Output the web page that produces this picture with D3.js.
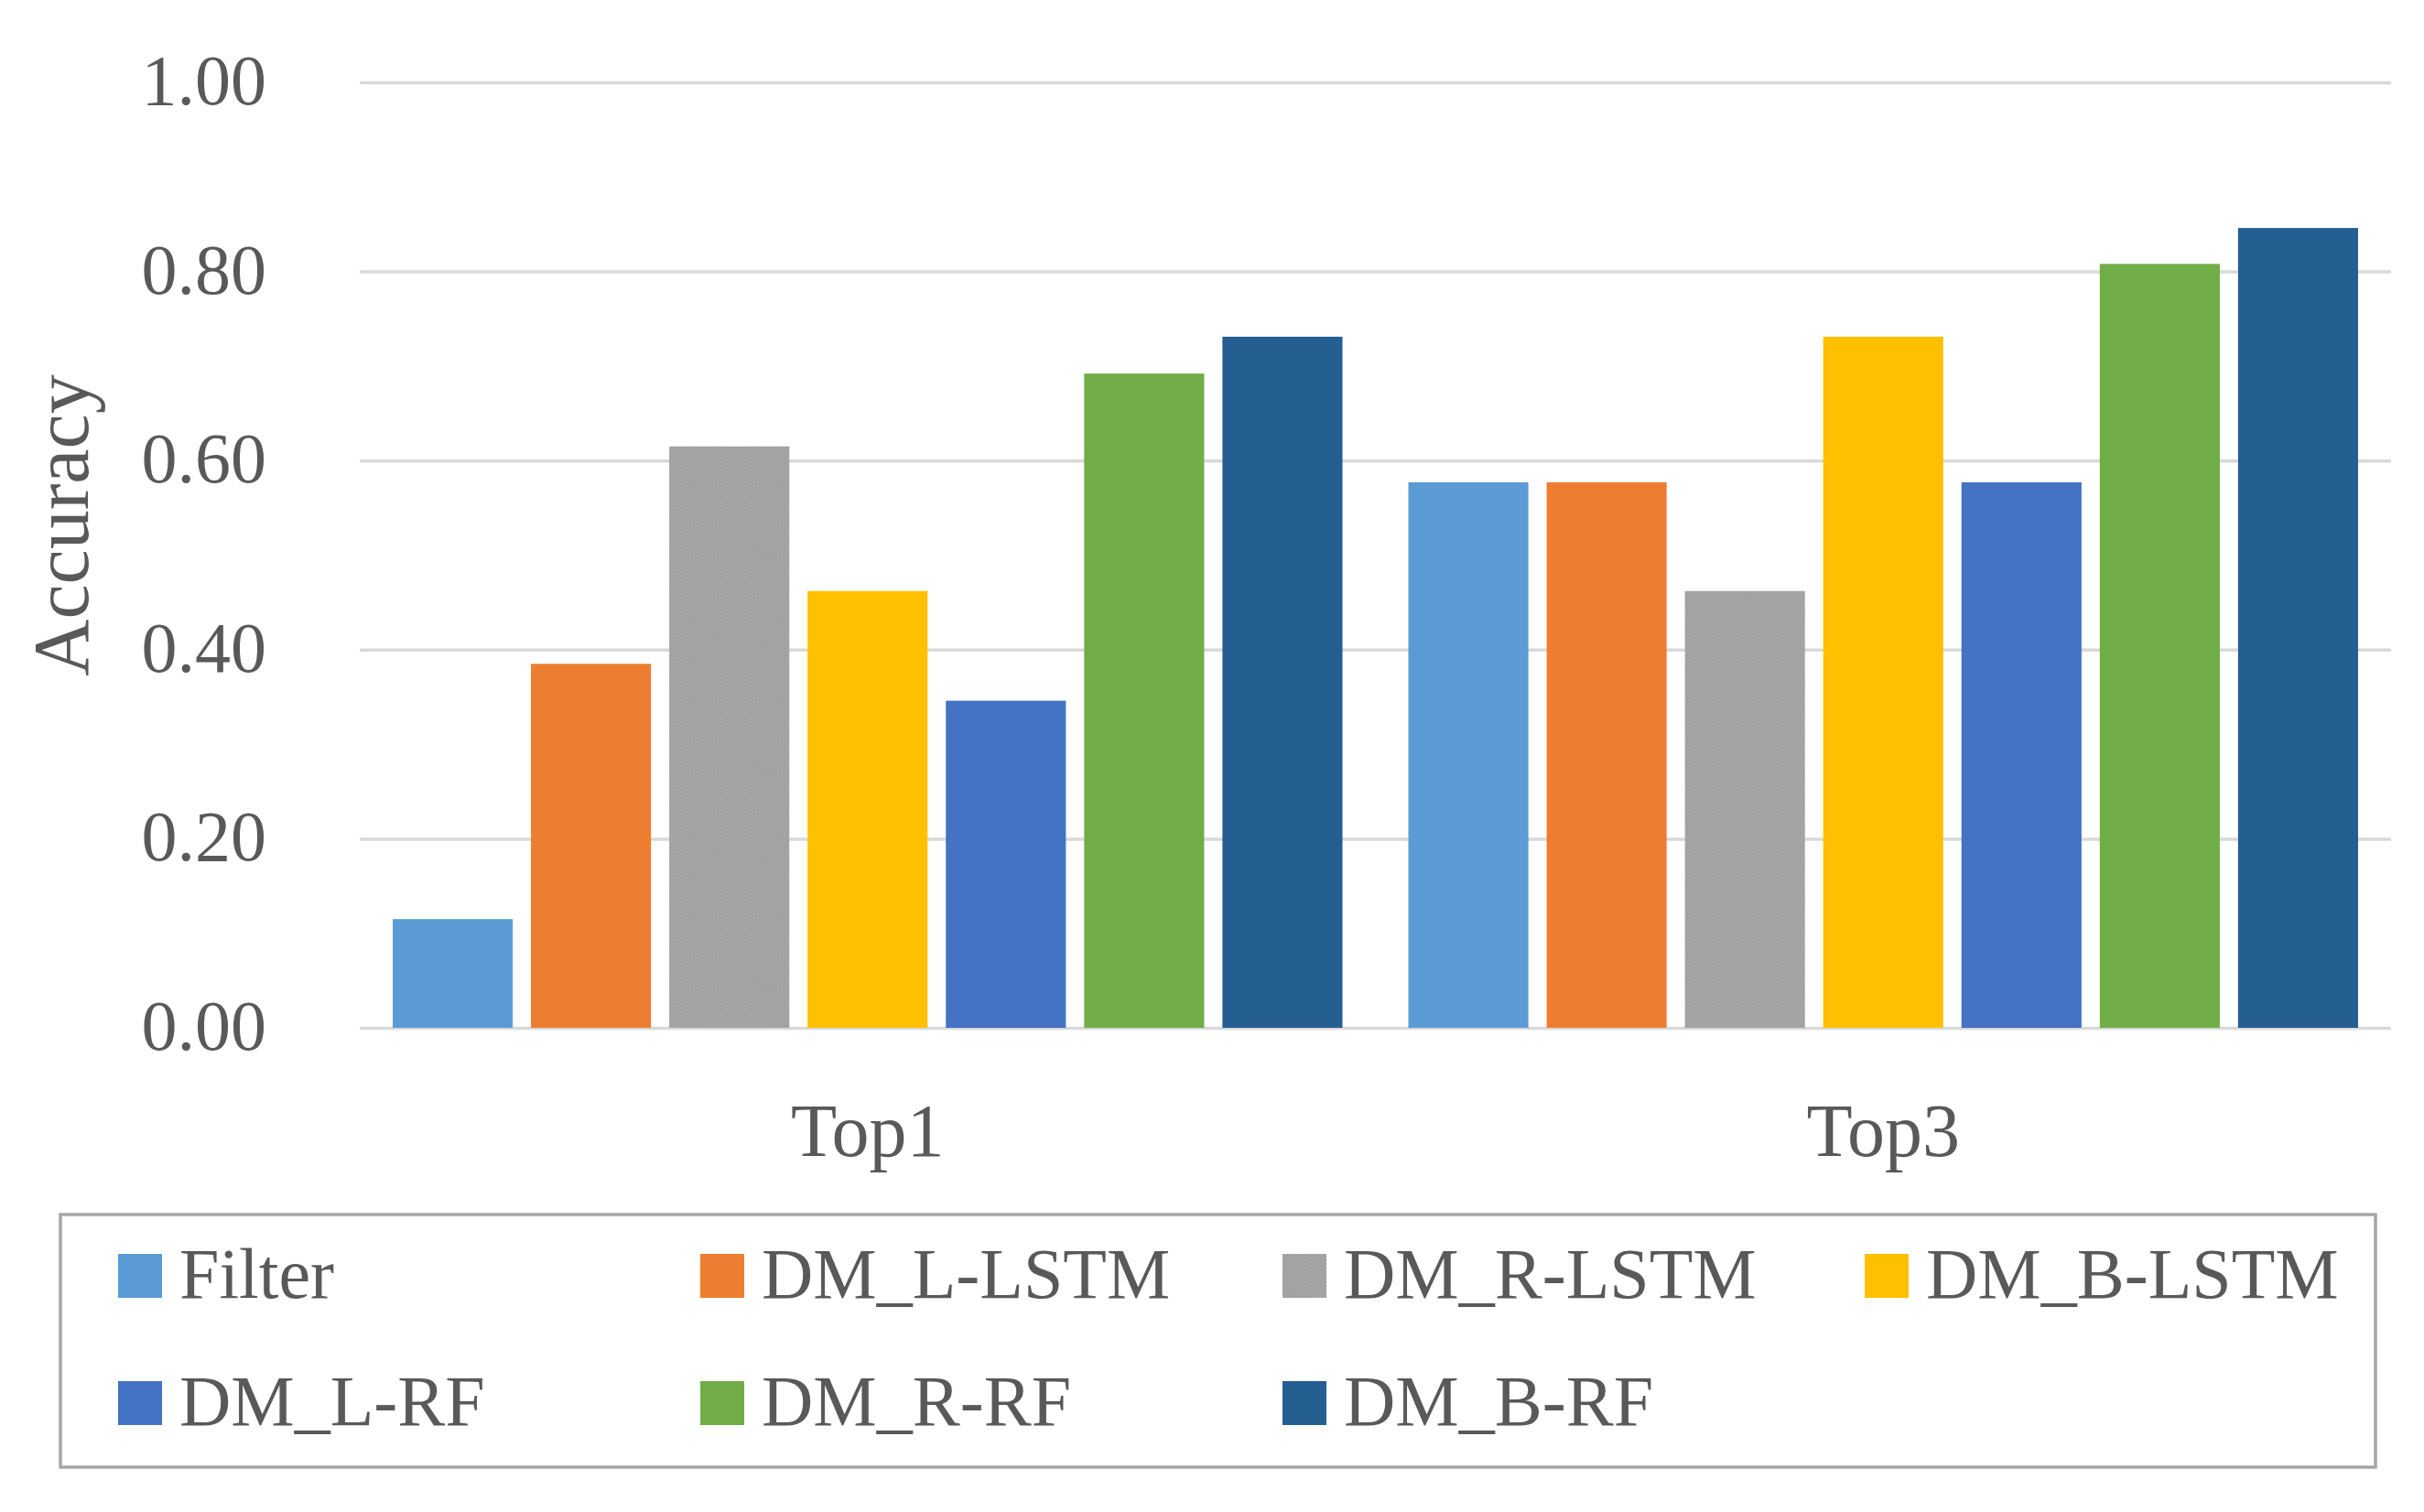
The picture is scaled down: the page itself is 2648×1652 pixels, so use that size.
<!DOCTYPE html>
<html>
<head>
<meta charset="utf-8">
<script src="https://cdn.jsdelivr.net/npm/d3@7"></script>
<style>
  html, body { margin: 0; padding: 0; background: #fff; }
  svg { display: block; }
  text { font-family: "Liberation Serif", "DejaVu Serif", serif; fill: #595959; }
</style>
</head>
<body>
<svg id="chart" width="2648" height="1652"></svg>
<script>
// data
const categories = ["Top1", "Top3"];
const series = ["Filter", "DM_L-LSTM", "DM_R-LSTM", "DM_B-LSTM", "DM_L-RF", "DM_R-RF", "DM_B-RF"];
const top1Values = [0.115, 0.385, 0.615, 0.462, 0.346, 0.692, 0.731];
const top3Values = [0.577, 0.577, 0.462, 0.731, 0.577, 0.808, 0.846];
const yTicks = [0, 0.2, 0.4, 0.6, 0.8, 1.0];
const colors = ["#5b9bd5", "#ed7d31", "#a5a5a5", "#ffc000", "#4472c4", "#70ad47", "#255e91"];

const valuesByCategory = { Top1: top1Values, Top3: top3Values };

const svg = d3.select("#chart");
const plot = { left: 393, right: 2612, top: 90, bottom: 1123 };

// fine texture for the grey series
const defs = svg.append("defs");
const pat = defs.append("pattern")
  .attr("id", "greyTex")
  .attr("patternUnits", "userSpaceOnUse")
  .attr("width", 4).attr("height", 4);
pat.append("rect").attr("width", 4).attr("height", 4).attr("fill", "#a9a9a9");
pat.append("rect").attr("x", 0).attr("y", 0).attr("width", 2).attr("height", 2).attr("fill", "#9d9d9d");
pat.append("rect").attr("x", 2).attr("y", 2).attr("width", 2).attr("height", 2).attr("fill", "#9d9d9d");

const fillFor = i => (i === 2 ? "url(#greyTex)" : colors[i]);

const x0 = d3.scaleBand()
  .domain(categories)
  .range([plot.left, plot.right]);

const outer = 36;
const x1 = d3.scaleBand()
  .domain(series)
  .range([outer, x0.bandwidth() - outer])
  .paddingInner(0.132);

const y = d3.scaleLinear()
  .domain([0, 1])
  .range([plot.bottom, plot.top]);

// gridlines + tick labels
const yAxis = svg.append("g")
  .attr("transform", `translate(${plot.left},0)`)
  .call(d3.axisLeft(y)
    .tickValues(yTicks)
    .tickFormat(d3.format(".2f"))
    .tickSize(-(plot.right - plot.left))
    .tickPadding(102));
yAxis.select(".domain").remove();
yAxis.selectAll(".tick line")
  .attr("stroke", "#d9d9d9")
  .attr("stroke-width", 3.5);
yAxis.selectAll(".tick text")
  .attr("dy", "0.3em")
  .style("font-size", "78px")
  .style("font-family", "\"Liberation Serif\", serif")
  .attr("fill", "#595959");

// bars
const groups = svg.append("g")
  .selectAll("g")
  .data(categories)
  .join("g")
  .attr("transform", d => `translate(${x0(d)},0)`);

groups.selectAll("rect")
  .data(c => valuesByCategory[c].map((v, i) => ({ key: series[i], value: v, i })))
  .join("rect")
  .attr("x", d => x1(d.key))
  .attr("width", x1.bandwidth())
  .attr("y", d => y(d.value))
  .attr("height", d => y(0) - y(d.value))
  .attr("fill", d => fillFor(d.i));

// category labels
svg.append("g")
  .selectAll("text")
  .data(categories)
  .join("text")
  .attr("x", d => x0(d) + x0.bandwidth() / 2)
  .attr("y", 1263)
  .attr("text-anchor", "middle")
  .style("font-size", "82px")
  .text(d => d);

// y axis title
svg.append("text")
  .attr("transform", "translate(96,574) rotate(-90)")
  .attr("text-anchor", "middle")
  .style("font-size", "86px")
  .text("Accuracy");

// legend
const legend = svg.append("g");
legend.append("rect")
  .attr("x", 66).attr("y", 1327)
  .attr("width", 2529).attr("height", 276)
  .attr("fill", "none")
  .attr("stroke", "#a6a6a6")
  .attr("stroke-width", 3.5);

const legendCols = 4;
const colW = 636;
const rowH = 139;
const item = legend.selectAll("g.item")
  .data(series)
  .join("g")
  .attr("class", "item")
  .attr("transform", (d, i) => `translate(${129 + (i % legendCols) * colW},${1394 + Math.floor(i / legendCols) * rowH})`);

item.append("rect")
  .attr("x", 0).attr("y", -24)
  .attr("width", 48).attr("height", 48)
  .attr("fill", (d, i) => fillFor(i));

item.append("text")
  .attr("x", 67)
  .attr("y", 24)
  .style("font-size", "78px")
  .text(d => d);
</script>
</body>
</html>
